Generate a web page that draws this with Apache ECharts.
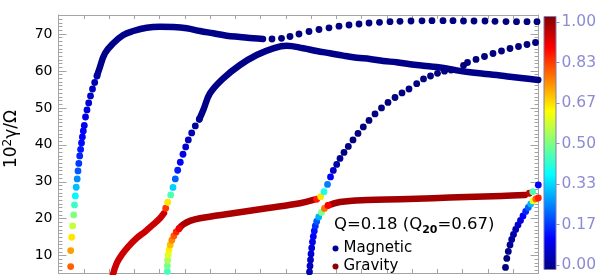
<!DOCTYPE html>
<html><head><meta charset="utf-8">
<script src="https://cdn.jsdelivr.net/npm/echarts@6/dist/echarts.min.js"></script>
<style>html,body{margin:0;padding:0;background:#fff}#c{width:598px;height:275px}</style>
</head><body><div id="c"></div>
<script>
// ---------------- data (x, growth rate 10^2 gamma/Omega, gravity share) ----------------
const xMin = 0, xMax = 19;
const yMin = 5.3, yMax = 75.15;
const yTickValues = [10, 20, 30, 40, 50, 60, 70];
const cbMin = 0, cbMax = 1;
const cbTickLabels = ['0.00', '0.17', '0.33', '0.50', '0.67', '0.83', '1.00'];
const jetColors = ['#000080','#0000ff','#0080ff','#00ffff','#80ff80','#ffff00','#ff8000','#ff0000','#800000'];

// mode 1: rising coloured dots on the left
const m1Rise = [[0.483,7.03,0.78],[0.483,11.36,0.72],[0.523,14.98,0.65],[0.562,18.04,0.57],[0.602,21.02,0.50],[0.633,23.73,0.43],[0.665,26.16,0.37],[0.701,28.52,0.31],[0.740,30.77,0.26],[0.772,32.93,0.21],[0.804,34.96,0.18],[0.839,36.99,0.16],[0.875,38.75,0.145],[0.910,40.51,0.135],[0.946,42.13,0.125],[0.982,43.76,0.12],[1.021,45.24,0.11],[1.069,47.54,0.10],[1.128,49.44,0.09],[1.195,51.33,0.08],[1.267,53.23,0.07],[1.346,55.12,0.06],[1.433,56.88,0.05],[1.524,58.64,0.04]];
// mode 1: densely sampled part
const m1Dense = [[1.524,58.64],[1.615,60.54],[1.841,64.78],[2.169,67.49],[2.565,69.74],[2.961,70.82],[3.491,71.71],[4.018,71.98],[4.544,71.90],[5.075,71.55],[5.601,70.82],[6.127,70.20],[6.658,69.55],[7.184,69.20],[7.711,68.84],[8.095,68.65]];
// mode 1: sparse top branch
const m1Top = [[8.451,68.65,0],[8.827,68.84,0],[9.163,69.33,0],[9.519,70.01,0],[9.916,70.68,0],[10.311,71.23,0],[10.707,71.69,0],[11.103,72.12,0],[11.499,72.44,0],[11.895,72.71,0],[12.291,72.98,0],[12.706,73.17,0],[13.122,73.34,0],[13.518,73.45,0],[13.953,73.53,0],[14.389,73.58,0],[14.784,73.61,0],[15.220,73.61,0],[15.616,73.61,0],[16.031,73.53,0],[16.447,73.53,0],[16.882,73.53,0],[17.278,73.45,0],[17.714,73.36,0],[18.129,73.34,0],[18.545,73.34,0],[18.941,73.34,0]];

// mode 2: gravity band A, turn, magnetic rise and descending branch
const bandA = [[2.138,4.51],[2.304,7.95],[2.502,10.20],[2.763,12.44],[3.095,14.72],[3.424,16.50],[3.753,18.45],[4.018,20.13],[4.176,21.48]];
const m2Turn = [[4.243,22.84,0.82],[4.322,24.46,0.65],[4.441,26.43,0.45],[4.532,28.46,0.33],[4.623,30.77,0.22],[4.718,33.12,0.15],[4.821,35.29,0.12],[4.928,37.45,0.10],[5.035,39.43,0.08],[5.138,41.32,0.06],[5.273,43.21,0.05],[5.415,45.11,0.03],[5.573,46.92,0.02]];
const m2Dense = [[5.573,46.92],[5.740,49.57],[5.997,53.96],[6.524,58.02],[7.184,61.62],[7.845,64.32],[8.502,66.14],[9.033,66.84],[9.690,66.14],[10.220,65.41],[10.747,64.78],[11.273,64.14],[11.804,63.59],[12.330,63.24],[12.857,62.70],[13.387,62.35],[13.914,61.81],[14.440,61.43],[14.970,61.08],[15.366,60.70],[15.762,60.15],[16.289,59.64],[16.815,59.26],[17.346,58.91],[17.872,58.45],[18.399,58.02],[18.992,57.56]];

// mode 3: coloured base, gravity band B, turn into magnetic rise
const m3Base = [[4.307,5.73,0.44],[4.307,7.22,0.49],[4.319,8.71,0.54],[4.342,10.20,0.59],[4.374,11.55,0.64],[4.422,12.90,0.69],[4.485,14.17,0.74],[4.564,15.34,0.79],[4.659,16.42,0.84],[4.770,17.31,0.89]];
const bandB = [[4.770,17.31],[4.940,18.45],[5.205,19.40],[5.601,20.13],[6.907,21.48],[8.241,22.84],[9.559,24.19],[10.086,25.08]];
const m3Rise = [[10.220,25.27,0.85],[10.379,25.97,0.65],[10.509,27.33,0.40],[10.648,29.28,0.25],[10.767,31.31,0.12],[10.878,33.07,0.07],[11.012,34.69,0.04],[11.143,36.31,0.02],[11.301,37.94,0],[11.471,39.56,0],[11.657,41.32,0],[11.855,43.08,0],[12.065,44.84,0],[12.291,46.60,0],[12.528,48.36,0],[12.785,49.98,0],[13.043,51.47,0],[13.320,52.82,0],[13.597,54.04,0],[13.874,55.12,0],[14.179,56.55,0],[14.448,57.83,0],[14.725,58.64,0],[15.002,59.37,0],[15.279,59.94,0],[15.536,60.26,0],[16.032,61.48,0],[16.190,62.29,0],[16.526,63.11,0],[16.862,63.92,0],[17.199,64.73,0],[17.535,65.41,0],[17.872,66.08,0],[18.208,66.62,0],[18.545,67.17,0],[18.881,67.71,0]];

// mode 4: magnetic base turning into gravity band C
const m4Base = [[9.935,5.60,0.05],[9.955,7.22,0.06],[9.975,8.84,0.07],[9.995,10.47,0.08],[10.022,12.09,0.09],[10.054,13.71,0.10],[10.086,15.20,0.12],[10.125,16.69,0.14],[10.165,18.04,0.17],[10.220,19.26,0.21],[10.299,20.48,0.30],[10.410,21.70,0.50],[10.529,22.78,0.77],[10.668,23.59,0.88]];
const bandC = [[10.668,23.59],[11.143,24.54],[12.200,25.08],[13.518,25.27],[14.824,25.54],[16.158,25.89],[17.535,26.16],[18.465,26.43]];
const m4End = [[18.636,26.89,0.93],[18.771,27.33,0.45],[18.992,29.14,0.12]];

// mode 5: magnetic rise at the right
const m5Rise = [[17.694,6.81,0],[17.745,9.25,0],[17.805,11.14,0.01],[17.872,12.90,0.02],[17.939,14.39,0.03],[18.010,15.74,0.04],[18.097,17.10,0.05],[18.188,18.32,0.07],[18.287,19.53,0.09],[18.386,20.75,0.12],[18.493,21.97,0.16],[18.596,23.05,0.22],[18.691,24.00,0.30],[18.782,24.81,0.60],[18.893,25.35,0.78],[18.992,25.62,0.85]];

// ---------------- chart ----------------
const FONT = 'DejaVu Sans';
const frame = '#a4a4a4';
const lav = '#8c8cd2';

function frameX(pos){
  return {gridIndex:0, type:'value', min:xMin, max:xMax, interval:1, position:pos,
    axisLine:{show:true, onZero:false, lineStyle:{color:frame, width:1}},
    axisTick:{show:true, inside:true, length:4, lineStyle:{color:frame}},
    axisLabel:{show:false}, splitLine:{show:false}};
}
function frameY(pos, major, extra){
  return Object.assign({gridIndex:0, type:'value', min:yMin, max:yMax, position:pos,
    minInterval: major ? 10 : 1, maxInterval: major ? 10 : 1, splitNumber: major ? 7 : 70,
    axisLine:{show:major, onZero:false, lineStyle:{color:frame, width:1}},
    axisTick:{show:true, inside:true, length: major ? 8 : 4, lineStyle:{color:frame}},
    axisLabel:{show:false}, splitLine:{show:false}, minorTick:{show:false}}, extra || {});
}
function lineS(data, color){
  return {type:'line', xAxisIndex:0, yAxisIndex:0, data:data, symbol:'none', smooth:0.4,
    silent:true, z:2, lineStyle:{width:6.5, color:color, cap:'round', join:'round', opacity:1}, itemStyle:{color:color}};
}
function dotS(data){
  return {type:'scatter', xAxisIndex:0, yAxisIndex:0, data:data, symbolSize:6.8, silent:true, z:3,
    itemStyle:{opacity:1}};
}

const series = [
  lineS(m1Dense, '#000088'),
  lineS(m2Dense, '#000088'),
  lineS(bandA, '#cc0000'),
  lineS(bandB, '#ac0000'),
  lineS(bandC, '#a20000'),
  dotS(m1Rise), dotS(m1Top), dotS(m2Turn), dotS(m3Base), dotS(m3Rise), dotS(m4Base), dotS(m4End), dotS(m5Rise),
  {name:'Magnetic', type:'scatter', xAxisIndex:0, yAxisIndex:0, data:[], itemStyle:{color:'#000090', opacity:1}},
  {name:'Gravity', type:'scatter', xAxisIndex:0, yAxisIndex:0, data:[], itemStyle:{color:'#8e0000', opacity:1}},
  {type:'bar', xAxisIndex:2, yAxisIndex:4, data:[cbMax], barWidth:'100%', silent:true,
    itemStyle:{borderColor:'#7f7fb5', borderWidth:1, opacity:1,
      color:{type:'linear', x:0, y:1, x2:0, y2:0, colorStops: jetColors.map((c,i)=>({offset:i/(jetColors.length-1), color:c}))}}}
];

const legendCommon = {orient:'vertical', padding:0, itemWidth:6, itemHeight:6, itemGap:0, icon:'circle',
  selectedMode:false, textStyle:{fontFamily:FONT, fontSize:15, color:'#000', lineHeight:14, padding:[0,0,13,0]}};

const option = {
  animation:false,
  backgroundColor:'#fff',
  grid:[
    {left:58.5, top:15, width:480, height:258, containLabel:false, outerBoundsMode:'none'},
    {left:543.5, top:16, width:13, height:254, containLabel:false, outerBoundsMode:'none'},
    {left:543.5, top:22, width:13, height:243, containLabel:false, outerBoundsMode:'none'}
  ],
  title:{text:'Q=0.18 (Q{s|20}=0.67)', left:334, top:214, padding:0,
    textStyle:{fontFamily:FONT, fontSize:16.5, fontWeight:'normal', color:'#000', lineHeight:22,
      rich:{s:{fontFamily:FONT, fontSize:11, fontWeight:'bold', color:'#000', verticalAlign:'bottom', lineHeight:22}}}},
  legend:[
    Object.assign({}, legendCommon, {data:['Magnetic'], left:332.5, top:235}),
    Object.assign({}, legendCommon, {data:['Gravity'], left:332.5, top:253})
  ],
  visualMap:{type:'continuous', show:false, min:cbMin, max:cbMax, dimension:2,
    seriesIndex:[5,6,7,8,9,10,11,12], inRange:{color:jetColors, opacity:1}},
  xAxis:[
    frameX('bottom'), frameX('top'),
    {gridIndex:1, type:'category', data:['c'], show:false},
    {gridIndex:2, type:'category', data:['c'], show:false}
  ],
  yAxis:[
    frameY('left', true, {
      axisLabel:{show:true, margin:6, fontFamily:FONT, fontSize:14, color:'#000',
        formatter:(v)=>{ const t = yTickValues.find(k=>Math.abs(k-v)<1e-6); return t===undefined ? '' : String(t); }},
      name:'10{s|2}γ/Ω', nameLocation:'middle', nameRotate:90, nameGap:37,
      nameTextStyle:{fontFamily:FONT, fontSize:17, color:'#000', lineHeight:20, padding:[0,0,0,10],
        rich:{s:{fontFamily:FONT, fontSize:12, color:'#000', verticalAlign:'top', lineHeight:20}}}
    }),
    frameY('left', false),
    frameY('right', true),
    frameY('right', false),
    {gridIndex:1, type:'value', min:cbMin, max:cbMax, show:false},
    {gridIndex:2, type:'value', min:cbMin, max:cbMax, interval:(cbMax-cbMin)/6, position:'right',
      axisLine:{show:false}, splitLine:{show:false},
      axisTick:{show:true, inside:false, length:3, lineStyle:{color:lav}},
      axisLabel:{show:true, margin:5, fontFamily:FONT, fontSize:15.5, color:lav,
        formatter:(v)=> cbTickLabels[Math.round((v-cbMin)/(cbMax-cbMin)*6)]}}
  ],
  series: series
};
const chart = echarts.init(document.getElementById('c'), null, {renderer:'canvas'});
chart.setOption(option);
</script></body></html>
